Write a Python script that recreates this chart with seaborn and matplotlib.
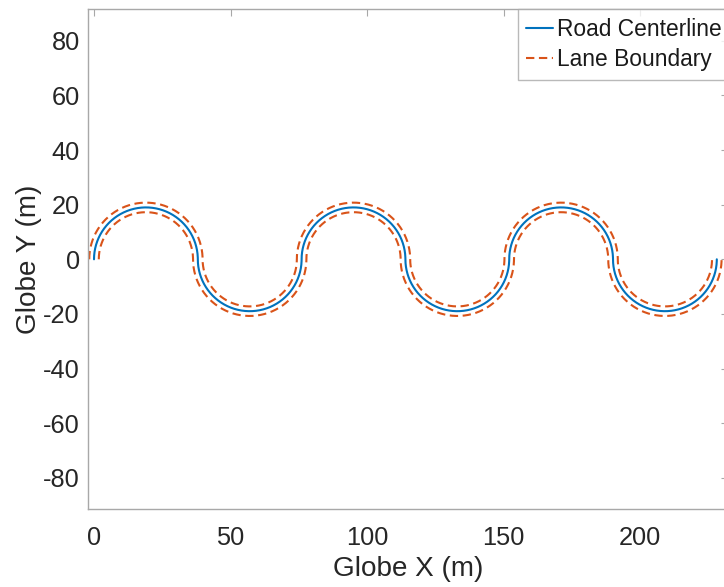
import numpy as np
import pandas as pd
import matplotlib
matplotlib.use("Agg")
import matplotlib.pyplot as plt
import seaborn as sns

# Road geometry: a chain of semicircular arcs (centre x, bulge direction)
arc_center_x = [19, 57, 95, 133, 171, 209]
arc_direction = [1, -1, 1, -1, 1, -1]   # +1 arcs over the top, -1 arcs underneath
arc_radius = 19
lane_half_width = 1.75

x_ticks = [0, 50, 100, 150, 200]
y_ticks = [-80, -60, -40, -20, 0, 20, 40, 60, 80]

series_labels = ["Road Centerline", "Lane Boundary"]
line_colors = ["#0072BD", "#D95319"]


def trace(offset):
    """Polyline of the road shifted sideways by `offset` (positive = left of travel)."""
    xs, ys = [], []
    for cx, d in zip(arc_center_x, arc_direction):
        r = arc_radius + d * offset
        theta = np.linspace(np.pi, 0, 90) if d > 0 else np.linspace(np.pi, 2 * np.pi, 90)
        xs.append(cx + r * np.cos(theta))
        ys.append(r * np.sin(theta))
    return np.concatenate(xs), np.concatenate(ys)


cx, cy = trace(0.0)
lx, ly = trace(lane_half_width)
rx, ry = trace(-lane_half_width)
center_df = pd.DataFrame({"x": cx, "y": cy})
left_df = pd.DataFrame({"x": lx, "y": ly})
right_df = pd.DataFrame({"x": rx, "y": ry})

sns.set_style("white")
plt.rcParams["font.family"] = ["Liberation Sans", "DejaVu Sans"]
plt.rcParams["axes.unicode_minus"] = False

fig = plt.figure(figsize=(7.24, 5.87), dpi=100)
ax = fig.add_axes([88 / 724, (587 - 509.3) / 587, 640 / 724, 500 / 587])

sns.lineplot(data=center_df, x="x", y="y", ax=ax, sort=False, estimator=None,
             color=line_colors[0], linewidth=1.5, label=series_labels[0])
sns.lineplot(data=left_df, x="x", y="y", ax=ax, sort=False, estimator=None,
             color=line_colors[1], linewidth=1.5, label=series_labels[1])
sns.lineplot(data=right_df, x="x", y="y", ax=ax, sort=False, estimator=None,
             color=line_colors[1], linewidth=1.5, label="_nolegend_")
for ln in ax.get_lines()[1:]:
    ln.set_dashes((4, 2.2))

ax.set_xlim(-2.2, 232.1)
ax.set_ylim(-91.55, 91.55)
ax.set_xticks(x_ticks)
ax.set_yticks(y_ticks)

spine_color = "#a8a8a8"
for s in ax.spines.values():
    s.set_color(spine_color)
    s.set_linewidth(1.0)
ax.tick_params(axis="both", direction="in", length=5, width=0.8, color=spine_color,
               labelsize=18.3, labelcolor="#262626", top=True, right=True)
ax.tick_params(axis="x", pad=12)
ax.tick_params(axis="y", pad=6)

ax.set_xlabel("Globe X (m)", fontsize=20.1, color="#262626", labelpad=4)
ax.set_ylabel("Globe Y (m)", fontsize=20.1, color="#262626", labelpad=1)

leg = ax.legend(loc="upper right", bbox_to_anchor=(1.004, 1.0), borderaxespad=0,
                fontsize=16.4, frameon=True, fancybox=False, handlelength=1.15,
                handletextpad=0.2, borderpad=0.38, labelspacing=0.32)
leg.get_frame().set_edgecolor("#a8a8a8")
leg.get_frame().set_linewidth(1.0)
for t in leg.get_texts():
    t.set_color("#1a1a1a")

fig.savefig("out.png", dpi=100)
